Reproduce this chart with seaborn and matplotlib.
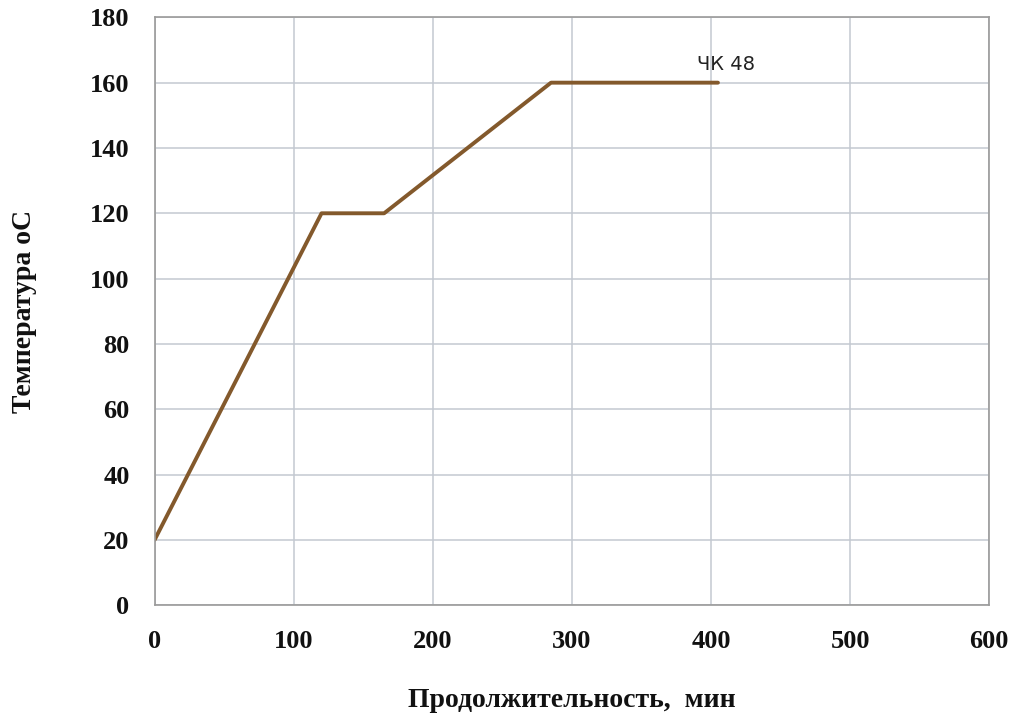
import pandas as pd
import matplotlib.pyplot as plt
import seaborn as sns

sns.set_style("whitegrid")
plt.rcParams['font.family'] = ['Liberation Serif', 'DejaVu Serif']

# heating schedule
duration_min = [0, 120, 165, 285, 405]
temperature_c = [20, 120, 120, 160, 160]
series_label = "ЧК 48"
x_ticks = [0, 100, 200, 300, 400, 500, 600]
y_ticks = [0, 20, 40, 60, 80, 100, 120, 140, 160, 180]

df = pd.DataFrame({"duration": duration_min, "temperature": temperature_c})

fig = plt.figure(figsize=(10.24, 7.23), dpi=100)
ax = fig.add_axes([0.151, 0.163, 0.815, 0.813])

sns.lineplot(data=df, x="duration", y="temperature", color="#83592c",
             linewidth=2.8, ax=ax, sort=False)

ax.text(duration_min[-1] - 15, temperature_c[-1] + 2.5, series_label,
        fontsize=14, family=['DejaVu Sans'], ha='left', va='bottom', color='#222222')

ax.set_xlim(0, 600)
ax.set_ylim(0, 180)
ax.set_xticks(x_ticks)
ax.set_yticks(y_ticks)
ax.grid(True, color='#c3c9d1', linewidth=1.1)
for side in ax.spines.values():
    side.set_color('#9a9a9a')
    side.set_linewidth(1.2)

ax.tick_params(axis='both', labelsize=19, length=0, labelcolor='#111111')
ax.tick_params(axis='x', pad=18)
ax.tick_params(axis='y', pad=18)
for lbl in ax.get_xticklabels() + ax.get_yticklabels():
    lbl.set_fontweight('bold')

ax.set_xlabel("Продолжительность,  мин", fontsize=20, fontweight='bold', color='#111111')
ax.set_ylabel("Температура оС", fontsize=20, fontweight='bold', color='#111111')
ax.xaxis.set_label_coords(0.5, -0.162)
ax.xaxis.label.set_va('center')
ax.yaxis.set_label_coords(-0.156, 0.5)
ax.yaxis.label.set_va('center')

fig.savefig("out.png", dpi=100, facecolor='white')
plt.close(fig)
